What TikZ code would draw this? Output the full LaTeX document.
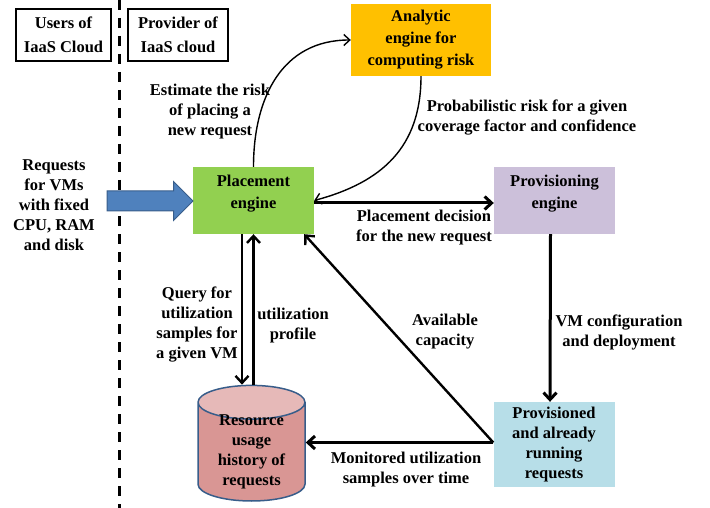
\documentclass[tikz,border=0pt]{standalone}
\usepackage{fontspec}
\setmainfont{Liberation Serif}
\usetikzlibrary{arrows.meta, positioning, shapes.geometric, shapes.arrows, calc}
\definecolor{riskorange}{HTML}{FFC000}
\definecolor{placegreen}{HTML}{92D050}
\definecolor{provpurple}{HTML}{CCC0DA}
\definecolor{runblue}{HTML}{B7DEE8}
\definecolor{dbred}{HTML}{D99694}
\definecolor{dbtop}{HTML}{E6B9B8}
\definecolor{dbborder}{HTML}{385D8A}
\definecolor{reqblue}{HTML}{4F81BD}
\tikzset{
    engine/.style={
        rectangle, minimum width=121pt, minimum height=67pt,
        align=center, inner sep=2pt,
        font=\bfseries\fontsize{16.5}{22}\selectfont
    },
    party/.style={
        rectangle, draw=black, line width=1.5pt,
        minimum height=52pt, align=center, inner sep=2pt,
        font=\bfseries\fontsize{16.5}{24}\selectfont
    },
    store/.style={
        cylinder, shape border rotate=90, aspect=0.5,
        draw=dbborder, line width=1.5pt,
        cylinder uses custom fill, cylinder body fill=dbred, cylinder end fill=dbtop,
        minimum width=107pt, minimum height=100pt,
        align=center, inner xsep=0pt, inner ysep=-5pt,
        font=\bfseries\fontsize{16.5}{20}\selectfont
    },
    lbl/.style={align=center, inner sep=0pt, font=\bfseries\fontsize{16.5}{20}\selectfont},
    arr/.style={-{Straight Barb[length=7pt, width=13pt]}, line width=3pt},
    arr mid/.style={-{Straight Barb[length=7pt, width=13pt]}, line width=2.4pt},
    arr thin/.style={-{Straight Barb[length=6pt, width=11pt]}, line width=1.4pt},
    divider/.style={line width=3pt, dash pattern=on 10pt off 8pt}
}

\begin{document}
\begin{tikzpicture}[x=1pt, y=-1pt]
    \useasboundingbox (0,0) rectangle (710,508);

    % --- Who is who ---
    \node[party, minimum width=95pt] (users) at (63.5,35) {Users of\\IaaS Cloud};
    \node[party, minimum width=100pt] (provider) at (178,35) {Provider of\\IaaS cloud};
    \coordinate (divtop) at (119,0);
    \coordinate (divbot) at (119,508);
    \draw[divider] (divtop) -- (divbot);

    % --- Engines ---
    \node[engine, fill=placegreen, text depth=18pt] (place) at (253.5,200.5) {Placement\\engine};
    \node[engine, fill=riskorange, minimum width=140pt, minimum height=72pt] (risk) at (421,40) {Analytic\\engine for\\computing risk};
    \node[engine, fill=provpurple, text depth=18pt] (prov) at (554.5,200.5) {Provisioning\\engine};
    \node[engine, fill=runblue, minimum height=85pt, font=\bfseries\fontsize{16.5}{20}\selectfont] (running) at (554,444.5) {Provisioned\\and already\\running\\requests};
    \node[store] (hist) at (251.5,452) {Resource\\usage\\history of\\requests};

    % --- Incoming requests ---
    \node[single arrow, fill=reqblue, draw=dbborder, line width=1pt,
          minimum height=86pt, single arrow head extend=9.5pt,
          inner xsep=0pt, inner ysep=9.5pt] (reqarrow) at (145,201) {};
    \node[lbl] (reqtxt) at (54,205) {Requests\\for VMs\\with fixed\\CPU, RAM\\and disk};

    % --- Labels ---
    \node[lbl] (asktxt) at (210,112) {Estimate the risk\\of placing a\\new request};
    \node[lbl] (risktxt) at (527,118) {Probabilistic risk for a given\\coverage factor and confidence};
    \node[lbl] (decitxt) at (424,228) {Placement decision\\for the new request};
    \node[lbl] (querytxt) at (197,325) {Query for\\utilization\\samples for\\a given VM};
    \node[lbl] (proftxt) at (293,326) {utilization\\profile};
    \node[lbl] (captxt) at (445,332) {Available\\capacity};
    \node[lbl] (conftxt) at (619,332) {VM configuration\\and deployment};
    \node[lbl] (montxt) at (406,470) {Monitored utilization\\samples over time};

    % --- Arrows ---
    \draw[arr thin] (place.north) to[out=90, in=180, looseness=1.1] (risk.west);
    \draw[arr thin] (risk.south) to[out=-90, in=15, looseness=1.1] (place.east);
    \draw[arr] ([yshift=-2.5pt]place.east) -- ([yshift=-2.5pt]prov.west);
    \draw[arr] ([xshift=-4pt]prov.south) -- ([xshift=-4pt]running.north);
    \draw[arr] ([yshift=2pt]running.west) -- ([yshift=2pt]running.west -| hist.east);
    \draw[arr mid] ([yshift=2pt]running.west) -- ([xshift=-10pt]place.south east);
    \draw[arr mid] ($(place.south)+(-11.5,0)$) -- ($(place.south |- hist.north)+(-11.5,0)$);
    \draw[arr mid] (place.south |- hist.north) -- (place.south);

\end{tikzpicture}
\end{document}
